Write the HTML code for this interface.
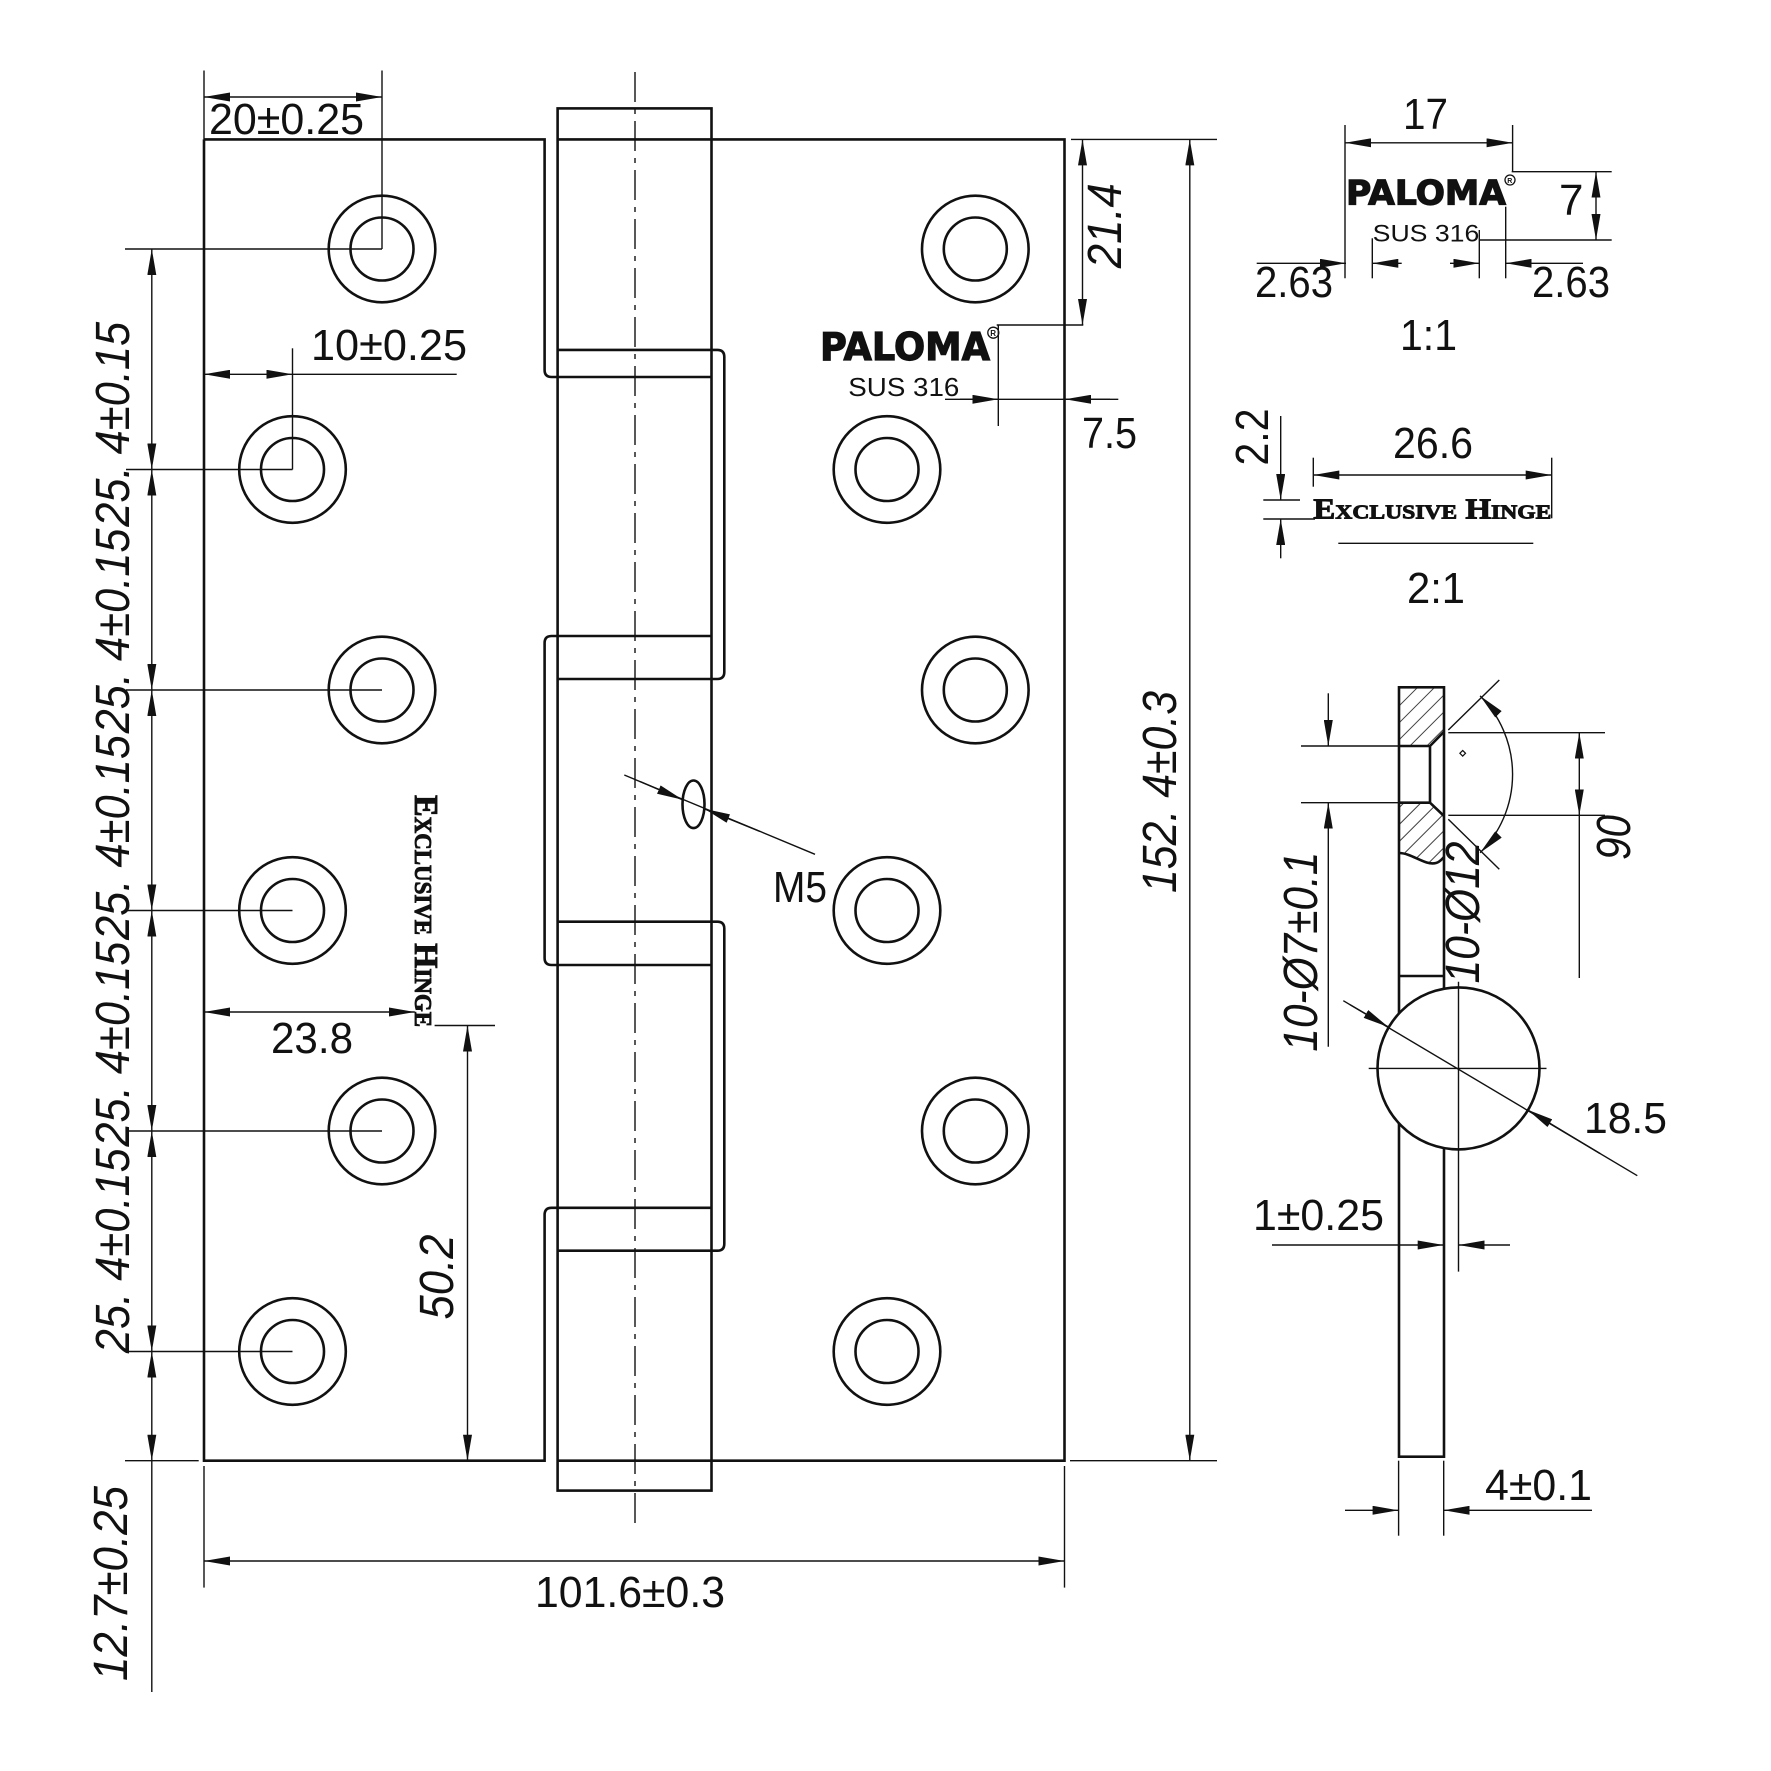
<!DOCTYPE html>
<html><head><meta charset="utf-8"><style>
html,body{margin:0;padding:0;background:#fff;}
svg{display:block;}
.o{fill:none;stroke:#111;stroke-width:2.6;}
.d{fill:none;stroke:#111;stroke-width:1.4;}
.t{font-family:"Liberation Sans",sans-serif;font-size:44px;fill:#111;}
.r{font-family:"Liberation Sans",sans-serif;font-size:48px;font-style:italic;fill:#111;}
.s{font-family:"Liberation Sans",sans-serif;fill:#111;}
</style></head><body>
<svg width="1771" height="1771" viewBox="0 0 1771 1771" xmlns="http://www.w3.org/2000/svg">
<defs>
<marker id="a" viewBox="0 0 26 9" refX="26" refY="4.5" markerWidth="26" markerHeight="9" markerUnits="userSpaceOnUse" orient="auto-start-reverse"><path d="M0,0 L26,4.5 L0,9 Z" fill="#111"/></marker>
<pattern id="h" patternUnits="userSpaceOnUse" width="12" height="12" patternTransform="rotate(45)"><line x1="0" y1="0" x2="0" y2="12" stroke="#111" stroke-width="1.6"/></pattern>
</defs>
<rect width="1771" height="1771" fill="#fff"/>

<!-- knuckle -->
<rect class="o" x="557.6" y="108.4" width="153.9" height="1382.2"/>
<line x1="635" y1="72" x2="635" y2="1524.5" stroke="#111" stroke-width="1.4" stroke-dasharray="30 7 5 7"/>
<!-- left leaf -->
<path class="o" d="M204,139.4 H544.6 V370 Q544.6,377 551.6,377 H711.5 M711.5,636 H551.6 Q544.6,636 544.6,643 V958 Q544.6,965 551.6,965 H711.5 M711.5,1207.8 H551.6 Q544.6,1207.8 544.6,1214.8 V1460.7 H204 V139.4"/>
<!-- right wraps -->
<path class="o" d="M557.6,349.9 H717.3 Q724.3,349.9 724.3,356.9 V672 Q724.3,679 717.3,679 H557.6 M557.6,921.7 H717.3 Q724.3,921.7 724.3,928.7 V1243.7 Q724.3,1250.7 717.3,1250.7 H557.6"/>
<!-- right leaf -->
<path class="o" d="M557.6,139.4 H1064.5 V1460.7 H557.6"/>

<!-- holes -->
<g class="o" stroke-width="2.4">
<circle cx="382" cy="249" r="53.3"/><circle cx="382" cy="249" r="31.5"/>
<circle cx="292.5" cy="469.5" r="53.3"/><circle cx="292.5" cy="469.5" r="31.5"/>
<circle cx="382" cy="690" r="53.3"/><circle cx="382" cy="690" r="31.5"/>
<circle cx="292.5" cy="910.5" r="53.3"/><circle cx="292.5" cy="910.5" r="31.5"/>
<circle cx="382" cy="1131" r="53.3"/><circle cx="382" cy="1131" r="31.5"/>
<circle cx="292.5" cy="1351.5" r="53.3"/><circle cx="292.5" cy="1351.5" r="31.5"/>
<circle cx="975.3" cy="249" r="53.3"/><circle cx="975.3" cy="249" r="31.5"/>
<circle cx="887" cy="469.5" r="53.3"/><circle cx="887" cy="469.5" r="31.5"/>
<circle cx="975.3" cy="690" r="53.3"/><circle cx="975.3" cy="690" r="31.5"/>
<circle cx="887" cy="910.5" r="53.3"/><circle cx="887" cy="910.5" r="31.5"/>
<circle cx="975.3" cy="1131" r="53.3"/><circle cx="975.3" cy="1131" r="31.5"/>
<circle cx="887" cy="1351.5" r="53.3"/><circle cx="887" cy="1351.5" r="31.5"/>
</g>
<!-- M5 hole -->
<ellipse class="o" cx="693.5" cy="804.3" rx="11" ry="23.8" stroke-width="2"/>

<!-- dimension lines -->
<g class="d">
<line x1="204" y1="97" x2="382" y2="97" marker-start="url(#a)" marker-end="url(#a)"/>
<line x1="204" y1="70.5" x2="204" y2="139.4"/>
<line x1="382" y1="70.5" x2="382" y2="249"/>
<line x1="204" y1="374.3" x2="292.5" y2="374.3" marker-start="url(#a)" marker-end="url(#a)"/>
<line x1="292.5" y1="374.3" x2="456.7" y2="374.3"/>
<line x1="292.5" y1="348.3" x2="292.5" y2="469.5"/>
<line x1="151.8" y1="249" x2="151.8" y2="469.5" marker-start="url(#a)" marker-end="url(#a)"/>
<line x1="151.8" y1="469.5" x2="151.8" y2="690" marker-start="url(#a)" marker-end="url(#a)"/>
<line x1="151.8" y1="690" x2="151.8" y2="910.5" marker-start="url(#a)" marker-end="url(#a)"/>
<line x1="151.8" y1="910.5" x2="151.8" y2="1131" marker-start="url(#a)" marker-end="url(#a)"/>
<line x1="151.8" y1="1131" x2="151.8" y2="1351.5" marker-start="url(#a)" marker-end="url(#a)"/>
<line x1="151.8" y1="1351.5" x2="151.8" y2="1460.7" marker-start="url(#a)" marker-end="url(#a)"/>
<line x1="151.8" y1="1460.7" x2="151.8" y2="1692"/>
<line x1="125" y1="249" x2="382" y2="249"/>
<line x1="126" y1="469.5" x2="292.5" y2="469.5"/>
<line x1="126" y1="690" x2="382" y2="690"/>
<line x1="126" y1="910.5" x2="292.5" y2="910.5"/>
<line x1="126" y1="1131" x2="382" y2="1131"/>
<line x1="126" y1="1351.5" x2="292.5" y2="1351.5"/>
<line x1="125" y1="1460.7" x2="198.7" y2="1460.7"/>
<line x1="204" y1="1012" x2="414.8" y2="1012" marker-start="url(#a)" marker-end="url(#a)"/>
<line x1="467.5" y1="1025.5" x2="467.5" y2="1460.7" marker-start="url(#a)" marker-end="url(#a)"/>
<line x1="434.6" y1="1025.5" x2="495" y2="1025.5"/>
<line x1="204" y1="1561" x2="1064.5" y2="1561" marker-start="url(#a)" marker-end="url(#a)"/>
<line x1="204" y1="1466" x2="204" y2="1587.6"/>
<line x1="1064.5" y1="1466" x2="1064.5" y2="1587.6"/>
<line x1="1189.8" y1="139.4" x2="1189.8" y2="1460.7" marker-start="url(#a)" marker-end="url(#a)"/>
<line x1="1071" y1="139.4" x2="1217" y2="139.4"/>
<line x1="1070" y1="1460.7" x2="1217" y2="1460.7"/>
<line x1="1082.5" y1="139.4" x2="1082.5" y2="325" marker-start="url(#a)" marker-end="url(#a)"/>
<line x1="996.7" y1="325" x2="1083.3" y2="325"/>
<line x1="998.3" y1="325" x2="998.3" y2="426"/>
<line x1="945" y1="399.3" x2="1118.3" y2="399.3"/>
<line x1="960" y1="399.3" x2="998.3" y2="399.3" marker-end="url(#a)"/>
<line x1="1110" y1="399.3" x2="1065" y2="399.3" marker-end="url(#a)"/>
<line x1="624.3" y1="775" x2="815" y2="854.3"/>
<line x1="640" y1="781.5" x2="682.7" y2="799.8" marker-end="url(#a)"/>
<line x1="760" y1="831.5" x2="704.3" y2="808.8" marker-end="url(#a)"/>
<line x1="1345" y1="142.8" x2="1512.6" y2="142.8" marker-start="url(#a)" marker-end="url(#a)"/>
<line x1="1345" y1="125" x2="1345" y2="278.3"/>
<line x1="1512.6" y1="125" x2="1512.6" y2="172"/>
<line x1="1596" y1="171.7" x2="1596" y2="240" marker-start="url(#a)" marker-end="url(#a)"/>
<line x1="1511.7" y1="171.7" x2="1611.7" y2="171.7"/>
<line x1="1479.3" y1="240" x2="1611.7" y2="240"/>
<line x1="1372.3" y1="238.3" x2="1372.3" y2="278.3"/>
<line x1="1256.7" y1="263.3" x2="1346" y2="263.3" marker-end="url(#a)"/>
<line x1="1401.7" y1="263.3" x2="1372.3" y2="263.3" marker-end="url(#a)"/>
<line x1="1479.3" y1="230" x2="1479.3" y2="278.3"/>
<line x1="1505.7" y1="206.7" x2="1505.7" y2="278.3"/>
<line x1="1450" y1="263.3" x2="1479.3" y2="263.3" marker-end="url(#a)"/>
<line x1="1583" y1="263.3" x2="1505.7" y2="263.3" marker-end="url(#a)"/>
<line x1="1280.7" y1="416" x2="1280.7" y2="500" marker-end="url(#a)"/>
<line x1="1280.7" y1="558.3" x2="1280.7" y2="519" marker-end="url(#a)"/>
<line x1="1263.3" y1="500" x2="1300" y2="500"/>
<line x1="1263.3" y1="519" x2="1315" y2="519"/>
<line x1="1313.3" y1="475" x2="1551.7" y2="475" marker-start="url(#a)" marker-end="url(#a)"/>
<line x1="1313.3" y1="457.7" x2="1313.3" y2="486.7"/>
<line x1="1551.7" y1="457.7" x2="1551.7" y2="518.3"/>
<line x1="1338.3" y1="543.3" x2="1533.3" y2="543.3"/>
<line x1="1328.3" y1="693.3" x2="1328.3" y2="746" marker-end="url(#a)"/>
<line x1="1328.3" y1="1046.7" x2="1328.3" y2="802.7" marker-end="url(#a)"/>
<line x1="1301" y1="746" x2="1399" y2="746"/>
<line x1="1301" y1="802.7" x2="1399" y2="802.7"/>
<line x1="1579.3" y1="732.7" x2="1579.3" y2="815.3" marker-start="url(#a)" marker-end="url(#a)"/>
<line x1="1579.3" y1="815.3" x2="1579.3" y2="978"/>
<line x1="1448.3" y1="732.7" x2="1605" y2="732.7"/>
<line x1="1448.3" y1="815.3" x2="1605" y2="815.3"/>
<line x1="1448.3" y1="730" x2="1499.3" y2="680"/>
<line x1="1448.3" y1="819.3" x2="1499.3" y2="869.3"/>
<path d="M1480.1,695.9 A111,111 0 0 1 1480.1,852.8" marker-start="url(#a)" marker-end="url(#a)"/>
<line x1="1345" y1="1510.3" x2="1398.6" y2="1510.3" marker-end="url(#a)"/>
<line x1="1592" y1="1510.3" x2="1443.7" y2="1510.3" marker-end="url(#a)"/>
<line x1="1398.6" y1="1460.7" x2="1398.6" y2="1535.7"/>
<line x1="1443.7" y1="1460.7" x2="1443.7" y2="1535.7"/>
</g>

<!-- side view -->
<polygon points="1399,687.3 1444,687.3 1444,731.7 1430,746 1399,746" fill="url(#h)"/>
<path d="M1399,802.7 H1430 L1444,816 V857 C1442,859 1440,862 1436,863 C1425,866 1412,853 1399,853 Z" fill="url(#h)"/>
<rect class="o" x="1399" y="687.3" width="45" height="769.4"/>
<path class="o" stroke-width="2" d="M1399,746 H1430 V802.7 H1399 M1430,746 L1444,731.7 M1430,802.7 L1444,816 M1399,976 H1444 M1399,853 C1412,853 1425,866 1436,863 C1440,862 1442,859 1444,857"/>
<rect x="1460.7" y="751.3" width="4" height="4" transform="rotate(45 1462.7 753.3)" fill="none" stroke="#111" stroke-width="1.2"/>
<circle cx="1458.5" cy="1068.4" r="81" fill="#fff" stroke="#111" stroke-width="2.6"/>
<g class="d">
<line x1="1368.7" y1="1068.4" x2="1546.5" y2="1068.4"/>
<line x1="1458.5" y1="981.7" x2="1458.5" y2="1271.6"/>
<line x1="1343.3" y1="1000.7" x2="1637.3" y2="1175.7"/>
<line x1="1350" y1="1004.7" x2="1388.4" y2="1027" marker-end="url(#a)"/>
<line x1="1600" y1="1153.5" x2="1527.6" y2="1109.8" marker-end="url(#a)"/>
<line x1="1272" y1="1245" x2="1443.7" y2="1245" marker-end="url(#a)"/>
<line x1="1510" y1="1245" x2="1458.5" y2="1245" marker-end="url(#a)"/>
</g>

<!-- upright texts -->
<g class="t">
<text x="209" y="134" textLength="155" lengthAdjust="spacingAndGlyphs">20±0.25</text>
<text x="311" y="360" textLength="156" lengthAdjust="spacingAndGlyphs">10±0.25</text>
<text x="271" y="1053" textLength="82" lengthAdjust="spacingAndGlyphs">23.8</text>
<text x="535" y="1607" textLength="190" lengthAdjust="spacingAndGlyphs">101.6±0.3</text>
<text x="773" y="902" textLength="54" lengthAdjust="spacingAndGlyphs">M5</text>
<text x="1082" y="448" textLength="55" lengthAdjust="spacingAndGlyphs">7.5</text>
<text x="1403" y="129" textLength="45" lengthAdjust="spacingAndGlyphs">17</text>
<text x="1559" y="215">7</text>
<text x="1255" y="297" textLength="78" lengthAdjust="spacingAndGlyphs">2.63</text>
<text x="1532" y="297" textLength="78" lengthAdjust="spacingAndGlyphs">2.63</text>
<text x="1400" y="350" textLength="57" lengthAdjust="spacingAndGlyphs">1:1</text>
<text x="1393" y="458" textLength="80" lengthAdjust="spacingAndGlyphs">26.6</text>
<text x="1407" y="603" textLength="58" lengthAdjust="spacingAndGlyphs">2:1</text>
<text x="1584" y="1133" textLength="83" lengthAdjust="spacingAndGlyphs">18.5</text>
<text x="1253" y="1230" textLength="131" lengthAdjust="spacingAndGlyphs">1±0.25</text>
<text x="1485" y="1500" textLength="107" lengthAdjust="spacingAndGlyphs">4±0.1</text>
</g>

<!-- rotated italic texts -->
<g class="r" text-anchor="middle">
<text x="129" y="424.3" transform="rotate(-90 129 424.3)" textLength="205" lengthAdjust="spacingAndGlyphs">25. 4±0.15</text>
<text x="129" y="630.9" transform="rotate(-90 129 630.9)" textLength="205" lengthAdjust="spacingAndGlyphs">25. 4±0.15</text>
<text x="129" y="837.5" transform="rotate(-90 129 837.5)" textLength="205" lengthAdjust="spacingAndGlyphs">25. 4±0.15</text>
<text x="129" y="1044.1" transform="rotate(-90 129 1044.1)" textLength="205" lengthAdjust="spacingAndGlyphs">25. 4±0.15</text>
<text x="129" y="1250.7" transform="rotate(-90 129 1250.7)" textLength="205" lengthAdjust="spacingAndGlyphs">25. 4±0.15</text>
<text x="127" y="1583.5" transform="rotate(-90 127 1583.5)" textLength="195" lengthAdjust="spacingAndGlyphs">12.7±0.25</text>
<text x="1176" y="792" transform="rotate(-90 1176 792)" textLength="202" lengthAdjust="spacingAndGlyphs">152. 4±0.3</text>
<text x="1121" y="225.7" transform="rotate(-90 1121 225.7)" textLength="85" lengthAdjust="spacingAndGlyphs">21.4</text>
<text x="453" y="1277" transform="rotate(-90 453 1277)" textLength="85" lengthAdjust="spacingAndGlyphs">50.2</text>
<text x="1317" y="951.7" transform="rotate(-90 1317 951.7)" textLength="200" lengthAdjust="spacingAndGlyphs">10-Ø7±0.1</text>
<text x="1479" y="912.5" transform="rotate(-90 1479 912.5)" textLength="142" lengthAdjust="spacingAndGlyphs">10-Ø12</text>
<text x="1630" y="837.5" transform="rotate(-90 1630 837.5)" textLength="45" lengthAdjust="spacingAndGlyphs">90</text>
<text x="1268" y="437" transform="rotate(-90 1268 437)" textLength="57" lengthAdjust="spacingAndGlyphs" style="font-style:normal;font-size:46px">2.2</text>
</g>

<!-- logos -->
<g style="font-family:'DejaVu Sans','Liberation Sans',sans-serif;font-weight:bold" fill="#111" stroke="#111" stroke-width="1.2">
<text x="820" y="360" font-size="38" textLength="170" lengthAdjust="spacingAndGlyphs">PALOMA</text>
<text x="1346" y="204.3" font-size="34" textLength="160" lengthAdjust="spacingAndGlyphs">PALOMA</text>
</g>
<g fill="none" stroke="#111" stroke-width="1.3">
<circle cx="993.3" cy="332.7" r="5.5"/>
<circle cx="1510" cy="180" r="5"/>
</g>
<text x="990.3" y="336" class="s" font-size="8" font-weight="bold">R</text>
<text x="1507.3" y="183" class="s" font-size="7" font-weight="bold">R</text>
<text x="848.3" y="396" class="s" font-size="26" textLength="111" lengthAdjust="spacingAndGlyphs">SUS 316</text>
<text x="1372.7" y="241.7" class="s" font-size="24" textLength="106.6" lengthAdjust="spacingAndGlyphs">SUS 316</text>
<g style="font-family:'Liberation Serif',serif;font-weight:bold;font-variant:small-caps" fill="#111" stroke="#111" stroke-width="0.9">
<text x="1313.3" y="518.3" font-size="28" textLength="238" lengthAdjust="spacingAndGlyphs">Exclusive Hinge</text>
<text x="415" y="795" font-size="34" textLength="232" lengthAdjust="spacingAndGlyphs" transform="rotate(90 415 795)">Exclusive Hinge</text>
</g>
</svg>
</body></html>
